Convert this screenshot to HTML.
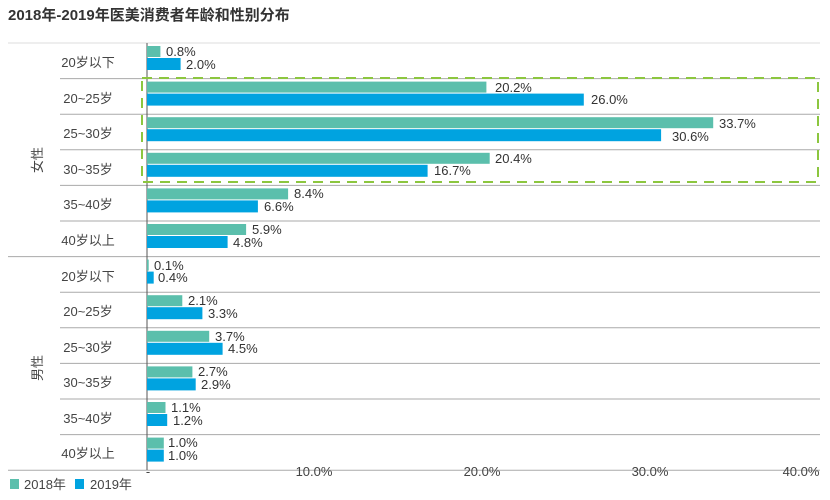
<!DOCTYPE html>
<html><head><meta charset="utf-8"><style>
body{margin:0;background:#fff;}
svg{display:block;font-family:"Liberation Sans","Noto Sans CJK SC",sans-serif;}
</style></head><body>
<svg width="830" height="500" viewBox="0 0 830 500">
<text x="8" y="20" font-size="15" font-weight="bold" fill="#333">2018年-2019年医美消费者年龄和性别分布</text>
<g stroke="#aaa" stroke-width="1">
<line x1="8" y1="43" x2="820" y2="43" stroke="#ddd"/>
<line x1="60" y1="78.6" x2="820" y2="78.6"/>
<line x1="60" y1="114.2" x2="820" y2="114.2"/>
<line x1="60" y1="149.8" x2="820" y2="149.8"/>
<line x1="60" y1="185.4" x2="820" y2="185.4"/>
<line x1="60" y1="221" x2="820" y2="221"/>
<line x1="8" y1="256.6" x2="820" y2="256.6"/>
<line x1="60" y1="292.2" x2="820" y2="292.2"/>
<line x1="60" y1="327.8" x2="820" y2="327.8"/>
<line x1="60" y1="363.4" x2="820" y2="363.4"/>
<line x1="60" y1="399" x2="820" y2="399"/>
<line x1="60" y1="434.6" x2="820" y2="434.6"/>
<line x1="8" y1="470.2" x2="820" y2="470.2"/>
</g>
<line x1="147" y1="43" x2="147" y2="470" stroke="#555" stroke-width="1"/>
<g fill="#5bbfac">
<rect x="147" y="46" width="13.4" height="11"/>
<rect x="147" y="81.6" width="339.4" height="11"/>
<rect x="147" y="117.2" width="566.2" height="11"/>
<rect x="147" y="152.8" width="342.7" height="11"/>
<rect x="147" y="188.4" width="141.1" height="11"/>
<rect x="147" y="224" width="99.1" height="11"/>
<rect x="147" y="259.6" width="1.7" height="11"/>
<rect x="147" y="295.2" width="35.3" height="11"/>
<rect x="147" y="330.8" width="62.2" height="11"/>
<rect x="147" y="366.4" width="45.4" height="11"/>
<rect x="147" y="402" width="18.5" height="11"/>
<rect x="147" y="437.6" width="16.8" height="11"/>
</g>
<g fill="#00a3e0">
<rect x="147" y="58" width="33.6" height="12"/>
<rect x="147" y="93.6" width="436.8" height="12"/>
<rect x="147" y="129.2" width="514.1" height="12"/>
<rect x="147" y="164.8" width="280.6" height="12"/>
<rect x="147" y="200.4" width="110.9" height="12"/>
<rect x="147" y="236" width="80.6" height="12"/>
<rect x="147" y="271.6" width="6.7" height="12"/>
<rect x="147" y="307.2" width="55.4" height="12"/>
<rect x="147" y="342.8" width="75.6" height="12"/>
<rect x="147" y="378.4" width="48.7" height="12"/>
<rect x="147" y="414" width="20.2" height="12"/>
<rect x="147" y="449.6" width="16.8" height="12"/>
</g>
<rect x="142" y="78" width="676" height="104" fill="none" stroke="#8cc63f" stroke-width="2" stroke-dasharray="10,7"/>
<g font-size="13" fill="#333">
<text x="166" y="56">0.8%</text><text x="186" y="69">2.0%</text>
<text x="495" y="92">20.2%</text><text x="591" y="104">26.0%</text>
<text x="719" y="128">33.7%</text><text x="672" y="141">30.6%</text>
<text x="495" y="163">20.4%</text><text x="434" y="175">16.7%</text>
<text x="294" y="198">8.4%</text><text x="264" y="211">6.6%</text>
<text x="252" y="234">5.9%</text><text x="233" y="247">4.8%</text>
<text x="154" y="270">0.1%</text><text x="158" y="282">0.4%</text>
<text x="188" y="305">2.1%</text><text x="208" y="318">3.3%</text>
<text x="215" y="341">3.7%</text><text x="228" y="353">4.5%</text>
<text x="198" y="376">2.7%</text><text x="201" y="389">2.9%</text>
<text x="171" y="412">1.1%</text><text x="173" y="425">1.2%</text>
<text x="168" y="447">1.0%</text><text x="168" y="460">1.0%</text>
</g>
<g font-size="13" fill="#444" text-anchor="middle">
<text x="88" y="67">20岁以下</text>
<text x="88" y="103">20~25岁</text>
<text x="88" y="138">25~30岁</text>
<text x="88" y="174">30~35岁</text>
<text x="88" y="209">35~40岁</text>
<text x="88" y="245">40岁以上</text>
<text x="88" y="281">20岁以下</text>
<text x="88" y="316">20~25岁</text>
<text x="88" y="352">25~30岁</text>
<text x="88" y="387">30~35岁</text>
<text x="88" y="423">35~40岁</text>
<text x="88" y="458">40岁以上</text>
</g>
<text transform="translate(42,160) rotate(-90)" font-size="13" fill="#444" text-anchor="middle">女性</text>
<text transform="translate(42,368) rotate(-90)" font-size="13" fill="#444" text-anchor="middle">男性</text>
<g font-size="13" fill="#444" text-anchor="middle">
<text x="148" y="476">-</text>
<text x="314" y="476">10.0%</text>
<text x="482" y="476">20.0%</text>
<text x="650" y="476">30.0%</text>
<text x="801" y="476">40.0%</text>
</g>
<rect x="10" y="479" width="9" height="10" fill="#5bbfac"/>
<text x="24" y="489" font-size="13" fill="#444">2018年</text>
<rect x="75" y="479" width="9" height="10" fill="#00a3e0"/>
<text x="90" y="489" font-size="13" fill="#444">2019年</text>
</svg>
</body></html>
